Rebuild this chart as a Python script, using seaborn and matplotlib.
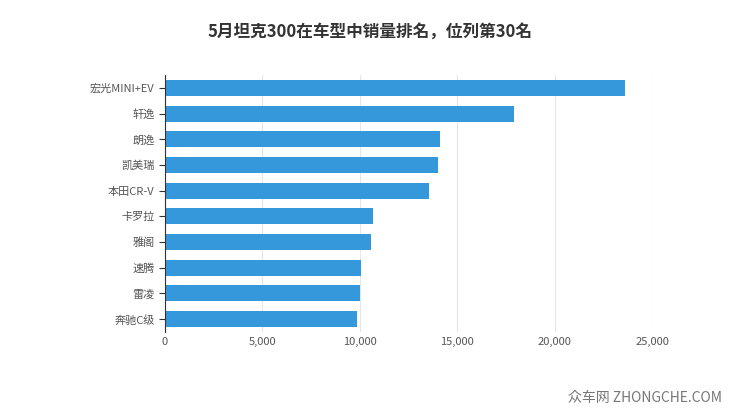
import matplotlib
matplotlib.use('Agg')
import matplotlib.pyplot as plt
from matplotlib import font_manager
import seaborn as sns
import pandas as pd

# 找中文字体，优先无衬线
cjk = sorted({f.name for f in font_manager.fontManager.ttflist if 'CJK' in f.name},
             key=lambda n: (('Sans' not in n), ('SC' not in n), n))
plt.rcParams['font.family'] = cjk[:1] + ['DejaVu Sans']

# 车型与销量
车型 = ['宏光MINI+EV', '轩逸', '朗逸', '凯美瑞', '本田CR-V', '卡罗拉', '雅阁', '速腾', '雷凌', '奔驰C级']
销量 = [23600, 17900, 14120, 14010, 13550, 10680, 10580, 10060, 10010, 9860]
刻度 = [0, 5000, 10000, 15000, 20000, 25000]
刻度标签 = ['0', '5,000', '10,000', '15,000', '20,000', '25,000']

df = pd.DataFrame({'车型': 车型, '销量': 销量})

fig = plt.figure(figsize=(7.4, 4.17), dpi=100)
ax = fig.add_axes([165 / 740, 1 - 332 / 417, 487 / 740, 257 / 417])
sns.barplot(ax=ax, data=df, x='销量', y='车型', color='#3498db', saturation=1, width=0.62)
ax.set_xlim(0, 25000)
ax.set_xticks(刻度)
ax.set_xticklabels(刻度标签)
ax.set_xlabel('')
ax.set_ylabel('')
ax.grid(axis='x', color='#e6e6e6', linewidth=0.8)
ax.set_axisbelow(True)
for s in ['top', 'right', 'bottom']:
    ax.spines[s].set_visible(False)
ax.spines['left'].set_color('#333333')
ax.tick_params(axis='both', labelsize=8, colors='#555555', length=0)
ax.tick_params(axis='y', length=4, color='#333333')

fig.text(0.5, 1 - 32 / 417, '5月坦克300在车型中销量排名，位列第30名', ha='center', va='center',
         fontsize=12, fontweight='bold', color='#333333')
fig.text(0.975, 1 - 398 / 417, '众车网 ZHONGCHE.COM', ha='right', va='center',
         fontsize=10, color='#777777')
fig.savefig('out.png', dpi=100)
